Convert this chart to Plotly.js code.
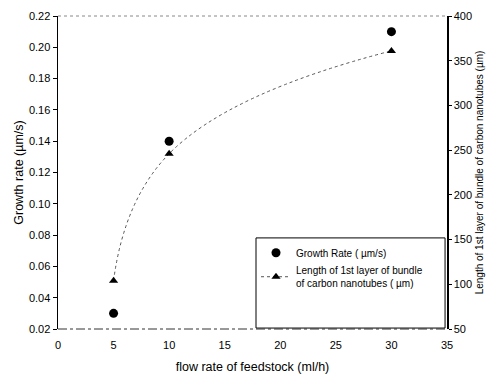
<!DOCTYPE html>
<html><head><meta charset="utf-8">
<script src="https://cdn.plot.ly/plotly-3.0.1.min.js"></script>
<style>body{margin:0;padding:0;background:#fff}#chart{width:502px;height:374px}</style>
</head><body><div id="chart"></div>
<script>
const flowRate = [5, 10, 30];
const growthRate = [0.03, 0.14, 0.21];
const layerLength = [104, 246, 361];
const seriesNames = ["Growth Rate ( \u00b5m/s)", "Length of 1st layer of bundle<br>of carbon nanotubes ( \u00b5m)"];

const font = "Liberation Sans, Arial, sans-serif";
const traces = [
  {x: flowRate, y: growthRate, name: seriesNames[0], mode: "markers", type: "scatter",
   marker: {symbol: "circle", size: 9, color: "#000"}},
  {x: flowRate, y: layerLength, name: seriesNames[1], mode: "lines+markers", type: "scatter", yaxis: "y2",
   line: {shape: "spline", smoothing: 1.3, dash: "dot", width: 1, color: "#555"},
   marker: {symbol: "triangle-up", size: 8, color: "#000"}}
];
const layout = {
  width: 502, height: 374,
  margin: {l: 58, r: 55, t: 16, b: 45},
  paper_bgcolor: "#fff", plot_bgcolor: "#fff",
  font: {family: font, color: "#000", size: 11},
  showlegend: true,
  legend: {x: 0.509, xanchor: "left", y: 0.29, yanchor: "top",
    bgcolor: "rgba(0,0,0,0)", borderwidth: 0,
    font: {size: 10, family: font}, tracegroupgap: 0, itemwidth: 30},
  xaxis: {range: [0, 35], dtick: 5, showgrid: false, zeroline: false, automargin: false,
    showline: false, ticks: "outside", ticklen: 6, tickcolor: "rgba(0,0,0,0)", tickfont: {size: 11},
    title: {text: "flow rate of feedstock (ml/h)", font: {size: 12.5}}},
  yaxis: {range: [0.02, 0.22], dtick: 0.02, tickformat: ".2f", showgrid: false, zeroline: false, automargin: false,
    showline: true, linecolor: "#000", linewidth: 1.5, ticks: "outside", ticklen: 4, tickcolor: "#000",
    tickfont: {size: 11},
    title: {text: "Growth rate (\u00b5m/s)", font: {size: 12.5}}},
  yaxis2: {overlaying: "y", side: "right", range: [50, 400], dtick: 50, showgrid: false, zeroline: false, automargin: false,
    showline: true, linecolor: "#000", linewidth: 1.5, ticks: "outside", ticklen: 3, tickcolor: "#000",
    tickfont: {size: 11},
    title: {text: "Length of 1st layer of bundle of carbon nanotubes (\u00b5m)", font: {size: 10}}},
  shapes: [
    {type: "line", xref: "paper", yref: "paper", x0: 0, x1: 1, y0: 1, y1: 1,
     line: {color: "#888", width: 1, dash: "dot"}},
    {type: "line", xref: "paper", yref: "paper", x0: 0, x1: 1, y0: 0, y1: 0,
     line: {color: "#333", width: 1, dash: "dashdot"}},
    {type: "rect", xref: "paper", yref: "paper", x0: 0.509, x1: 0.995, y0: 0.003, y1: 0.291,
     fillcolor: "rgba(255,255,255,1)", layer: "below", line: {color: "#000", width: 1}}
  ]
};
Plotly.newPlot("chart", traces, layout, {displayModeBar: false, staticPlot: true});
</script></body></html>
